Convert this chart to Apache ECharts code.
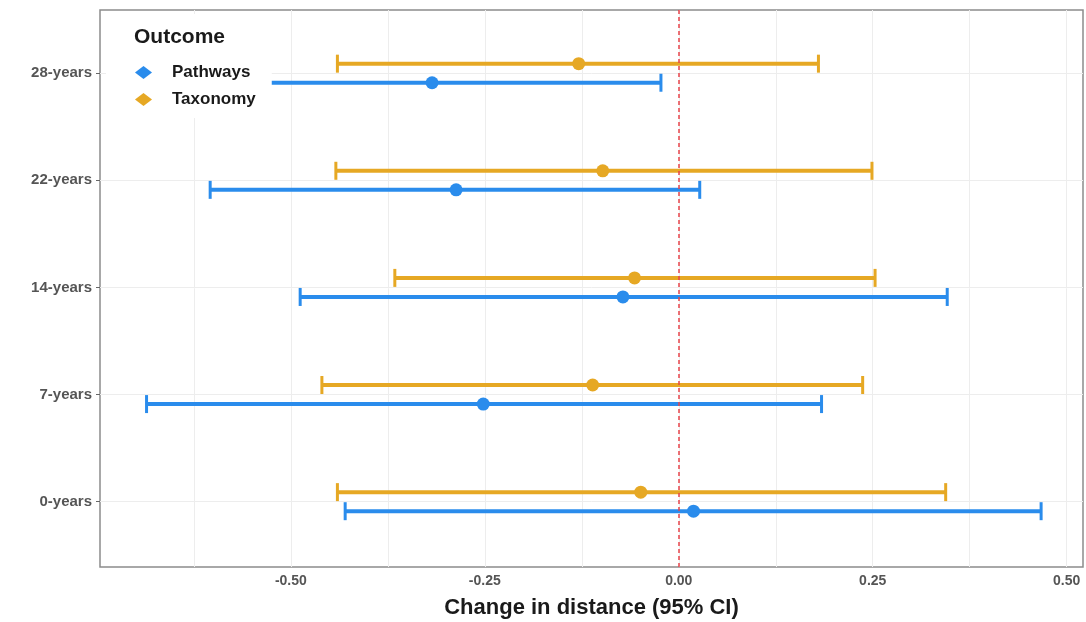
<!DOCTYPE html>
<html>
<head>
<meta charset="utf-8">
<script src="https://cdn.jsdelivr.net/npm/echarts@6/dist/echarts.min.js"></script>
<style>
  html, body { margin: 0; padding: 0; background: #fff; }
  #chart { width: 1086px; height: 622px; }
</style>
</head>
<body>
<div id="chart"></div>
<script>
// categories, bottom to top
var categories = ['0-years', '7-years', '14-years', '22-years', '28-years'];

// Pathways: estimate and 95% CI
var pathwaysEst  = [0.019, -0.252, -0.072, -0.287, -0.318];
var pathwaysLow  = [-0.430, -0.686, -0.488, -0.604, -0.620];
var pathwaysHigh = [0.467, 0.184, 0.346, 0.027, -0.023];

// Taxonomy: estimate and 95% CI
var taxonomyEst  = [-0.049, -0.111, -0.057, -0.098, -0.129];
var taxonomyLow  = [-0.440, -0.460, -0.366, -0.442, -0.440];
var taxonomyHigh = [0.344, 0.237, 0.253, 0.249, 0.180];

var xMajor = [-0.5, -0.25, 0, 0.25, 0.5];
var xGrid = [-0.625, -0.5, -0.375, -0.25, -0.125, 0, 0.125, 0.25, 0.375, 0.5];

var blue = '#2A8CEC';
var gold = '#E6A824';
var dodge = 0.089;
var font = 'Liberation Sans, Arial, sans-serif';

// rows for the error bars, [low, high, y]
var buildBars = function(low, high, shift) {
    var list = [];
    for (var i = 0; i < categories.length; i++) {
        list.push([low[i], high[i], i + shift]);
    }
    return list;
};
// rows for the points, [est, y]
var buildPoints = function(est, shift) {
    var list = [];
    for (var i = 0; i < categories.length; i++) {
        list.push([est[i], i + shift]);
    }
    return list;
};

var errorBar = function(color) {
    return function(params, api) {
        var y = api.value(2);
        var p1 = api.coord([api.value(0), y]);
        var p2 = api.coord([api.value(1), y]);
        var h = 9;
        return {
            type: 'group',
            children: [
                { type: 'line', shape: { x1: p1[0], y1: p1[1], x2: p2[0], y2: p2[1] },
                  style: { stroke: color, lineWidth: 4 } },
                { type: 'line', shape: { x1: p1[0], y1: p1[1] - h, x2: p1[0], y2: p1[1] + h },
                  style: { stroke: color, lineWidth: 3 } },
                { type: 'line', shape: { x1: p2[0], y1: p2[1] - h, x2: p2[0], y2: p2[1] + h },
                  style: { stroke: color, lineWidth: 3 } }
            ]
        };
    };
};

var chart = echarts.init(document.getElementById('chart'));

chart.setOption({
    animation: false,
    textStyle: { fontFamily: font },
    color: [blue, gold],
    title: {
        text: 'Outcome',
        left: 134,
        top: 27,
        padding: 0,
        textStyle: { fontSize: 21, fontWeight: 'bold', color: '#1a1a1a', fontFamily: font }
    },
    legend: {
        orient: 'vertical',
        left: 106,
        top: 14,
        padding: [50, 16, 10, 29],
        backgroundColor: '#fff',
        itemWidth: 17,
        itemHeight: 13,
        itemGap: 10,
        data: [
            { name: 'Pathways', icon: 'diamond' },
            { name: 'Taxonomy', icon: 'diamond' }
        ],
        textStyle: { fontSize: 17, fontWeight: 'bold', color: '#1a1a1a', padding: [0, 0, 0, 15], fontFamily: font }
    },
    grid: {
        left: 100,
        right: 3,
        top: 10,
        bottom: 55,
        show: true,
        borderColor: '#8c8c8c',
        borderWidth: 1.5,
        containLabel: false,
        outerBoundsMode: 'none'
    },
    xAxis: {
        type: 'value',
        min: -0.746,
        max: 0.521,
        name: 'Change in distance (95% CI)',
        nameLocation: 'middle',
        nameGap: 30,
        nameTextStyle: { fontSize: 22, fontWeight: 'bold', color: '#1a1a1a', fontFamily: font },
        axisLine: { show: false, onZero: false },
        axisTick: { show: false, customValues: xGrid },
        axisLabel: {
            customValues: xMajor,
            margin: 7,
            fontSize: 14,
            fontWeight: 'bold',
            color: '#555',
            formatter: function(v) { return v.toFixed(2); }
        },
        splitLine: { show: true, lineStyle: { color: '#ededed', width: 1 } }
    },
    yAxis: {
        type: 'value',
        min: -0.61,
        max: 4.59,
        axisLine: { show: false, onZero: false },
        axisTick: { show: true, customValues: [0, 1, 2, 3, 4], length: 4, lineStyle: { color: '#666' } },
        axisLabel: {
            customValues: [0, 1, 2, 3, 4],
            margin: 8,
            fontSize: 15,
            fontWeight: 'bold',
            color: '#555',
            formatter: function(v) { return categories[Math.round(v)]; }
        },
        splitLine: { show: true, lineStyle: { color: '#ededed', width: 1 } }
    },
    series: [
        {
            name: 'Pathways',
            type: 'custom',
            renderItem: errorBar(blue),
            encode: { x: [0, 1], y: 2 },
            itemStyle: { color: blue },
            data: buildBars(pathwaysLow, pathwaysHigh, -dodge)
        },
        {
            name: 'Taxonomy',
            type: 'custom',
            renderItem: errorBar(gold),
            encode: { x: [0, 1], y: 2 },
            itemStyle: { color: gold },
            data: buildBars(taxonomyLow, taxonomyHigh, dodge)
        },
        {
            name: 'Pathways',
            type: 'scatter',
            symbol: 'circle',
            symbolSize: 13,
            itemStyle: { color: blue, opacity: 1 },
            data: buildPoints(pathwaysEst, -dodge),
            z: 3
        },
        {
            name: 'Taxonomy',
            type: 'scatter',
            symbol: 'circle',
            symbolSize: 13,
            itemStyle: { color: gold, opacity: 1 },
            data: buildPoints(taxonomyEst, dodge),
            z: 3,
            markLine: {
                silent: true,
                symbol: 'none',
                label: { show: false },
                lineStyle: { color: '#E8434A', type: [4, 3], width: 1.5 },
                data: [{ xAxis: 0 }]
            }
        }
    ]
});
</script>
</body>
</html>
